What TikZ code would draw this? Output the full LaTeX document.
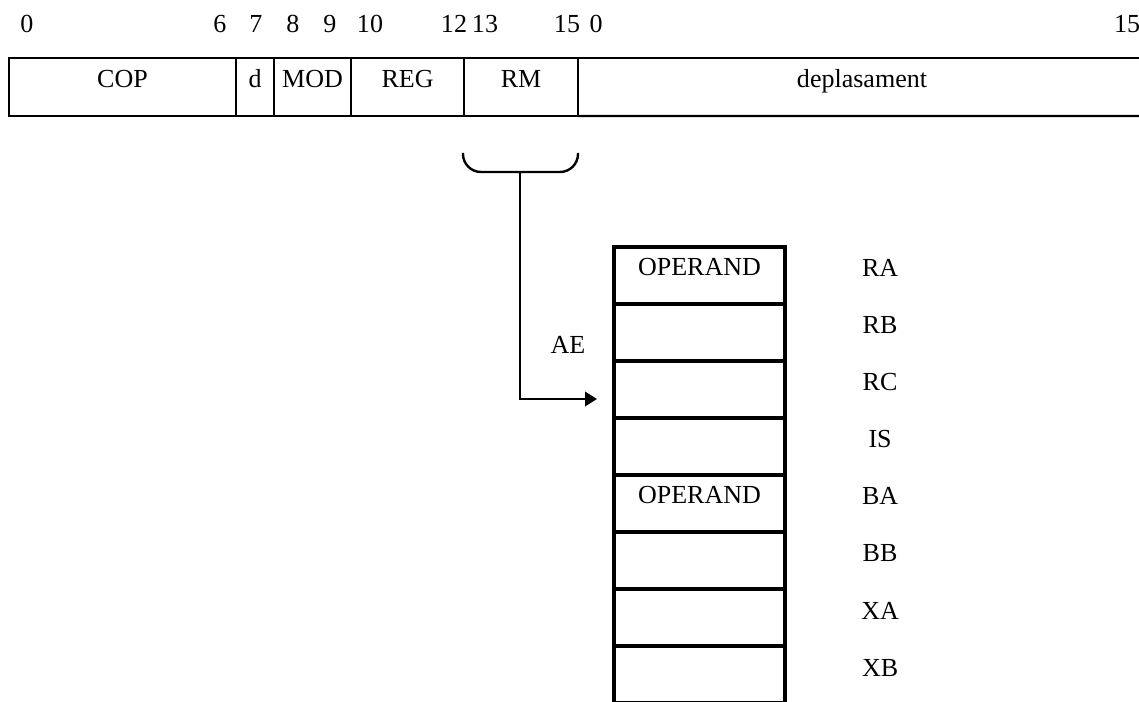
\documentclass[tikz,border=0pt]{standalone}
\usepackage{fontspec}
\setmainfont{Liberation Serif}
\usetikzlibrary{positioning,arrows.meta}
\begin{document}
\begin{tikzpicture}[x=0.025cm,y=-0.025cm,
 every node/.style={font=\fontsize{18.5}{22}\selectfont},
 field/.style={draw,line width=1.6pt,outer sep=0pt,inner sep=0pt,
  minimum height=1.45cm,text height=5pt,text depth=5pt},
 cell/.style={draw,line width=2.4pt,outer sep=0pt,inner sep=0pt,
  minimum width=4.275cm,minimum height=1.425cm,text height=5pt,text depth=5pt},
 bit/.style={anchor=base,inner sep=0pt}]
 \useasboundingbox (0,0) rectangle (1139,702);

 % instruction format
 \node[field,minimum width=5.675cm,anchor=north west] (cop) at (9,58) {COP};
 \node[field,minimum width=0.95cm,right=0pt of cop] (d) {d};
 \node[field,minimum width=1.925cm,right=0pt of d] (mod) {MOD};
 \node[field,minimum width=2.825cm,right=0pt of mod] (reg) {REG};
 \node[field,minimum width=2.85cm,right=0pt of reg] (rm) {RM};
 \node[bit] (depl) at (862,88) {deplasament};
 \coordinate (dn) at (1140,58);
 \coordinate (ds) at (1140,116);
 \draw[line width=1.6pt] (rm.north east) -- (dn);
 \draw[line width=1.6pt] (rm.south east) -- (ds);

 % bit positions
 \foreach \x/\b in {27/0,220/6,256/7,293/8,330/9,370/10,454/12,485/13,567/15,596/0,1127/15}
  \node[bit] (b\x) at (\x,33) {\b};

 % registers
 \node[cell,anchor=north west] (r1) at (614,247) {OPERAND};
 \foreach \i/\t [evaluate=\i as \p using int(\i-1)] in {2/{},3/{},4/{},5/OPERAND,6/{},7/{},8/{}}
  \node[cell,below=0pt of r\p] (r\i) {\t};
 \foreach \i/\n in {1/RA,2/RB,3/RC,4/IS,5/BA,6/BB,7/XA,8/XB}
  \node[bit] (l\n) at ([xshift=2.375cm,yshift=-1pt]r\i.east) {\n};

 % effective address
 \coordinate (bl) at (463,153);
 \coordinate (br) at (578,153);
 \coordinate (bs) at (520,172);
 \coordinate (ae) at (597,399);
 \draw[line width=1.7pt,rounded corners=0.45cm] (bl) -- (bl |- bs) -- (br |- bs) -- (br);
 \draw[line width=1.7pt,-{Triangle[length=0.3cm,width=0.36cm]}] (bs) |- (ae);
 \node[bit] (aelbl) at (568,353) {AE};
\end{tikzpicture}
\end{document}
